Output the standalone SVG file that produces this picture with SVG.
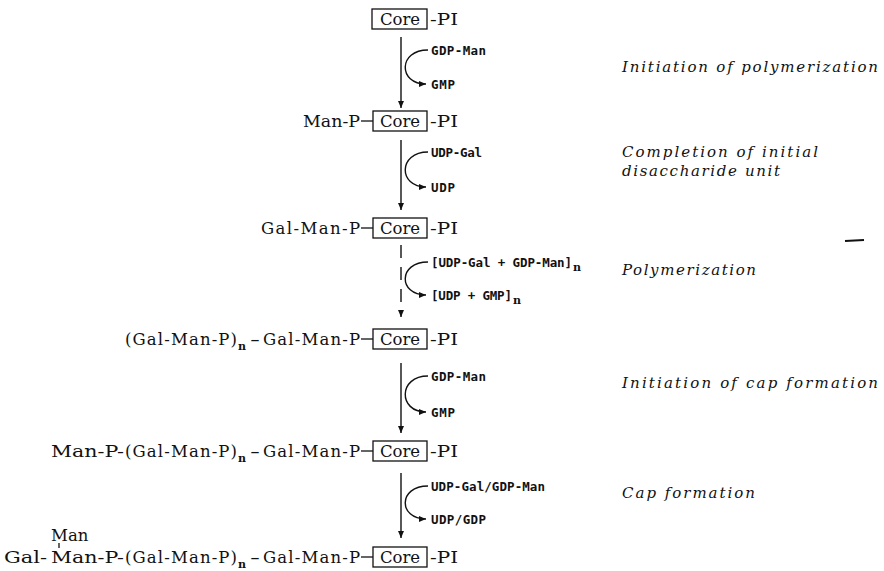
<svg xmlns="http://www.w3.org/2000/svg" width="884" height="571" viewBox="0 0 884 571">
<style>
.ch{font-family:"DejaVu Serif","Liberation Serif",serif;font-size:16.5px;fill:#111}
.sub{font-family:"DejaVu Serif","Liberation Serif",serif;font-size:11px;font-weight:bold;fill:#111}
.sm{font-family:"DejaVu Sans Mono","Liberation Mono",monospace;font-size:12.5px;font-weight:bold;fill:#111}
.lab{font-family:"DejaVu Serif","Liberation Serif",serif;font-style:italic;font-size:15px;fill:#111}
.box{fill:none;stroke:#111;stroke-width:1.3}
.ln{stroke:#111;stroke-width:1.3;fill:none}
.ar{stroke:#111;stroke-width:1.4;fill:none;marker-end:url(#ah)}
</style>
<defs>
<marker id="ah" markerUnits="userSpaceOnUse" markerWidth="9" markerHeight="8" refX="7" refY="3" orient="auto">
<path d="M0,0 L7,3 L0,6 z" fill="#111"/>
</marker>
</defs>
<g id="row1">
<rect class="box" x="372" y="9" width="55" height="20"/>
<text class="ch" x="400" y="25" text-anchor="middle">Core</text>
<text class="ch" x="430" y="25" textLength="28" lengthAdjust="spacingAndGlyphs">-PI</text>
</g>
<g id="row2">
<text class="ch" x="303" y="127" textLength="57" lengthAdjust="spacingAndGlyphs">Man-P</text>
<line class="ln" x1="361" y1="121" x2="373" y2="121"/>
<rect class="box" x="373" y="111" width="54" height="20"/>
<text class="ch" x="400" y="127" text-anchor="middle">Core</text>
<text class="ch" x="430" y="127" textLength="28" lengthAdjust="spacingAndGlyphs">-PI</text>
</g>
<g id="row3">
<text class="ch" x="261" y="234" textLength="99" lengthAdjust="spacing">Gal-Man-P</text>
<line class="ln" x1="361" y1="228" x2="373" y2="228"/>
<rect class="box" x="373" y="218" width="54" height="20"/>
<text class="ch" x="400" y="234" text-anchor="middle">Core</text>
<text class="ch" x="430" y="234" textLength="28" lengthAdjust="spacingAndGlyphs">-PI</text>
</g>
<g id="row4">
<text class="ch" x="125" y="345" textLength="112" lengthAdjust="spacing">(Gal-Man-P)</text>
<text class="sub" x="238" y="350">n</text>
<text class="ch" x="250" y="345" textLength="10" lengthAdjust="spacingAndGlyphs">-</text>
<text class="ch" x="263" y="345" textLength="97" lengthAdjust="spacing">Gal-Man-P</text>
<line class="ln" x1="361" y1="339" x2="373" y2="339"/>
<rect class="box" x="373" y="329" width="54" height="20"/>
<text class="ch" x="400" y="345" text-anchor="middle">Core</text>
<text class="ch" x="430" y="345" textLength="28" lengthAdjust="spacingAndGlyphs">-PI</text>
</g>
<g id="row5">
<text class="ch" x="51" y="457" textLength="73" lengthAdjust="spacingAndGlyphs">Man-P-</text>
<text class="ch" x="125" y="457" textLength="112" lengthAdjust="spacing">(Gal-Man-P)</text>
<text class="sub" x="238" y="462">n</text>
<text class="ch" x="250" y="457" textLength="10" lengthAdjust="spacingAndGlyphs">-</text>
<text class="ch" x="263" y="457" textLength="97" lengthAdjust="spacing">Gal-Man-P</text>
<line class="ln" x1="361" y1="451" x2="373" y2="451"/>
<rect class="box" x="373" y="441" width="54" height="20"/>
<text class="ch" x="400" y="457" text-anchor="middle">Core</text>
<text class="ch" x="430" y="457" textLength="28" lengthAdjust="spacingAndGlyphs">-PI</text>
</g>
<g id="row6">
<text class="ch" x="51" y="541">Man</text>
<line class="ln" x1="59" y1="543" x2="59" y2="548" stroke-width="0.8"/>
<text class="ch" x="4" y="563" textLength="43" lengthAdjust="spacingAndGlyphs">Gal-</text>
<text class="ch" x="51" y="563" textLength="73" lengthAdjust="spacingAndGlyphs">Man-P-</text>
<text class="ch" x="125" y="563" textLength="112" lengthAdjust="spacing">(Gal-Man-P)</text>
<text class="sub" x="238" y="568">n</text>
<text class="ch" x="250" y="563" textLength="10" lengthAdjust="spacingAndGlyphs">-</text>
<text class="ch" x="263" y="563" textLength="97" lengthAdjust="spacing">Gal-Man-P</text>
<line class="ln" x1="361" y1="557" x2="373" y2="557"/>
<rect class="box" x="373" y="547" width="54" height="20"/>
<text class="ch" x="400" y="563" text-anchor="middle">Core</text>
<text class="ch" x="430" y="563" textLength="28" lengthAdjust="spacingAndGlyphs">-PI</text>
</g>
<g id="connectors">
<line class="ar" x1="401" y1="37" x2="401" y2="108"/>
<path class="ar" d="M428,50 C398,50 398,84 426,84"/>
<line class="ar" x1="401" y1="140" x2="401" y2="210"/>
<path class="ar" d="M428,152 C398,152 398,187 426,187"/>
<line class="ar" x1="401" y1="245" x2="401" y2="317" stroke-dasharray="13 9"/>
<path class="ar" d="M428,262 C398,262 398,295 426,295"/>
<line class="ar" x1="401" y1="363" x2="401" y2="433"/>
<path class="ar" d="M428,376 C398,376 398,412 426,412"/>
<line class="ar" x1="401" y1="473" x2="401" y2="538"/>
<path class="ar" d="M428,486 C398,486 398,519 426,519"/>
</g>
<g id="reagents">
<text class="sm" x="431" y="54.5" textLength="55">GDP-Man</text>
<text class="sm" x="431" y="88.5" textLength="24">GMP</text>
<text class="sm" x="431" y="156.5" textLength="51">UDP-Gal</text>
<text class="sm" x="431" y="191.5" textLength="24">UDP</text>
<text class="sm" x="431" y="266.5" textLength="141">[UDP-Gal + GDP-Man]</text>
<text class="sub" x="573" y="271">n</text>
<text class="sm" x="431" y="299.5" textLength="81">[UDP + GMP]</text>
<text class="sub" x="513" y="304">n</text>
<text class="sm" x="431" y="380.5" textLength="55">GDP-Man</text>
<text class="sm" x="431" y="416.5" textLength="24">GMP</text>
<text class="sm" x="431" y="490.5" textLength="114">UDP-Gal/GDP-Man</text>
<text class="sm" x="431" y="523.5" textLength="55">UDP/GDP</text>
</g>
<g id="step-labels">
<text class="lab" x="622" y="72" textLength="256">Initiation of polymerization</text>
<text class="lab" x="622" y="157" textLength="196">Completion of initial</text>
<text class="lab" x="622" y="176" textLength="158">disaccharide unit</text>
<text class="lab" x="622" y="275" textLength="134">Polymerization</text>
<text class="lab" x="622" y="388" textLength="256">Initiation of cap formation</text>
<text class="lab" x="622" y="498" textLength="133">Cap formation</text>
</g>
<line x1="845" y1="241" x2="864" y2="240" stroke="#111" stroke-width="2"/>
</svg>
